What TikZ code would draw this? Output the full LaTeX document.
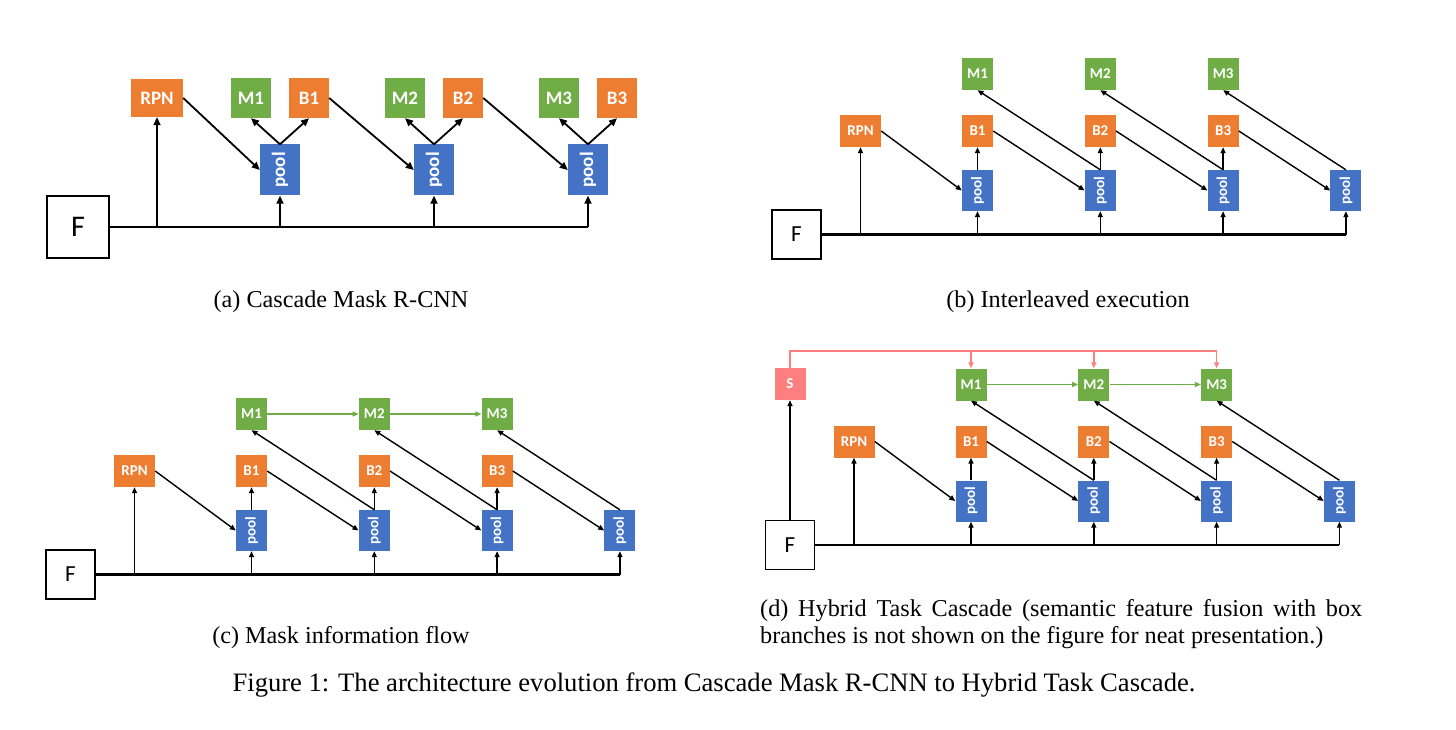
\documentclass[tikz,border=0pt]{standalone}
\usepackage{graphicx}
\usepackage{fontspec}
\setmainfont{Liberation Serif}
\newfontfamily\boxfont{Carlito}
\usetikzlibrary{arrows.meta}

\definecolor{boxorange}{HTML}{ED7D31}
\definecolor{boxgreen}{HTML}{70AD47}
\definecolor{boxblue}{HTML}{4472C4}
\definecolor{boxsalmon}{HTML}{FF7F7F}

\tikzset{
  tile/.style={inner sep=0pt, text=white},
  bigtile/.style={tile, minimum width=40pt, minimum height=40pt,
    font=\boxfont\bfseries\fontsize{19}{19}\selectfont},
  smalltile/.style={tile, minimum width=31pt, minimum height=32pt,
    font=\boxfont\bfseries\fontsize{15}{15}\selectfont},
  prop/.style={fill=boxorange},
  mask/.style={fill=boxgreen},
  roi/.style={fill=boxblue},
  seg/.style={fill=boxsalmon},
  featbig/.style={draw, line width=2.2pt, minimum size=62pt, inner sep=0pt,
    font=\boxfont\fontsize{30}{30}\selectfont},
  featsmall/.style={draw, line width=1.8pt, minimum size=49pt, inner sep=0pt,
    font=\boxfont\fontsize{23}{23}\selectfont},
  bigflow/.style={line width=1.8pt, -{Triangle[length=8pt,width=7pt]}},
  bigbus/.style={line width=2.6pt},
  flow/.style={line width=1.4pt, -{Triangle[length=6pt,width=5pt]}},
  bus/.style={line width=2.2pt},
  maskflow/.style={boxgreen, line width=1.2pt, -{Triangle[length=6pt,width=5pt]}},
  segline/.style={boxsalmon, line width=1.6pt},
  segflow/.style={segline, -{Triangle[length=6pt,width=5pt]}},
  caption/.style={inner sep=0pt, anchor=base, font=\fontsize{24.2}{27.5}\selectfont},
}

% One interleaved cascade: F, RPN, four pooling stages, three box and mask heads
\newcommand\cascadepanel[1]{%
  \node[featsmall] (#1F) at (0,0) {F};
  \node[smalltile, prop, minimum width=41pt] (#1R) at (64,-103.5) {RPN};
  \foreach \k/\x in {1/181,2/303.8,3/426.6,4/549.4}{
    \node[smalltile, roi, minimum height=41pt] (#1P\k) at (\x,-44) {\rotatebox{90}{pool}};
    \coordinate (#1J\k) at (\x,0);
  }
  \foreach \k/\x in {1/181,2/303.8,3/426.6}{
    \node[smalltile, prop] (#1B\k) at (\x,-103.5) {B\k};
    \node[smalltile, mask] (#1M\k) at (\x,-160.5) {M\k};
  }
  \coordinate (#1J0) at (64,0);
  \draw[bus] (#1F.east) -- (#1J4);
  \draw[flow] (#1J0) -- (#1R.south);
  \foreach \k in {1,...,4}{\draw[flow] (#1J\k) -- (#1P\k.south);}
  \draw[flow] (#1R.east) -- (#1P1.west);
  \foreach \k [evaluate=\k as \n using int(\k+1)] in {1,2,3}{
    \draw[flow] (#1B\k.east) -- (#1P\n.west);
    \draw[flow] (#1P\k.north) -- (#1B\k.south);
    \draw[flow] (#1P\n.north) -- (#1M\k.south);
  }
}

\begin{document}
\begin{tikzpicture}[x=1pt, y=-1pt]
\useasboundingbox[fill=white] (0,0) rectangle (1456,730);

% (a) Cascade Mask R-CNN
\node[featbig] (aF) at (78,227) {F};
\node[bigtile, prop, minimum width=52pt, minimum height=38pt] (aR) at (157,98) {RPN};
\foreach \k/\x in {1/280,2/434,3/588}{
  \node[bigtile, roi, minimum height=51pt] (aP\k) at (\x,170) {\rotatebox{90}{pool}};
  \node[bigtile, mask] (aM\k) at (\x-29,98) {M\k};
  \node[bigtile, prop] (aB\k) at (\x+29,98) {B\k};
  \coordinate (aJ\k) at (\x,227);
}
\coordinate (aJ0) at (157,227);
\draw[bigbus] (aF.east) -- (aJ3);
\draw[bigflow] (aJ0) -- (aR.south);
\foreach \k in {1,2,3}{
  \draw[bigflow] (aJ\k) -- (aP\k.south);
  \draw[bigflow] (aP\k.north) -- (aM\k.south);
  \draw[bigflow] (aP\k.north) -- (aB\k.south);
}
\draw[bigflow] (aR.east) -- (aP1.west);
\draw[bigflow] (aB1.east) -- (aP2.west);
\draw[bigflow] (aB2.east) -- (aP3.west);

% (b) Interleaved execution
\begin{scope}[shift={(796.5,234.5)}]
  \cascadepanel{b}
\end{scope}

% (c) Mask information flow
\begin{scope}[shift={(70.5,574.5)}]
  \cascadepanel{c}
  \draw[maskflow] (cM1.east) -- (cM2.west);
  \draw[maskflow] (cM2.east) -- (cM3.west);
\end{scope}

% (d) Hybrid Task Cascade
\begin{scope}[shift={(790,545)}]
  \cascadepanel{d}
  \draw[maskflow] (dM1.east) -- (dM2.west);
  \draw[maskflow] (dM2.east) -- (dM3.west);
  \node[smalltile, seg] (dS) at (0,-161) {S};
  \draw[flow] (dF.north) -- (dS.south);
  \coordinate (dT1) at (181,-194);
  \coordinate (dT2) at (303.8,-194);
  \coordinate (dT3) at (426.6,-194);
  \draw[segline] (dS.north) |- (dT3);
  \foreach \k in {1,2,3}{\draw[segflow] (dT\k) -- (dM\k.north);}
\end{scope}

% captions
\node[caption] (capA) at (341,307) {(a) Cascade Mask R-CNN};
\node[caption] (capB) at (1068,307) {(b) Interleaved execution};
\node[caption] (capC) at (341,643) {(c) Mask information flow};
\node[caption, anchor=base west, text width=602pt, align=justify] (capD) at (760,616)
  {(d) Hybrid Task Cascade (semantic feature fusion with box\linebreak branches is not shown on the figure for neat presentation.)};
\node[caption, font=\fontsize{26.6}{30}\selectfont] (capFig) at (714,691)
  {Figure 1: The architecture evolution from Cascade Mask R-CNN to Hybrid Task Cascade.};
\end{tikzpicture}
\end{document}
